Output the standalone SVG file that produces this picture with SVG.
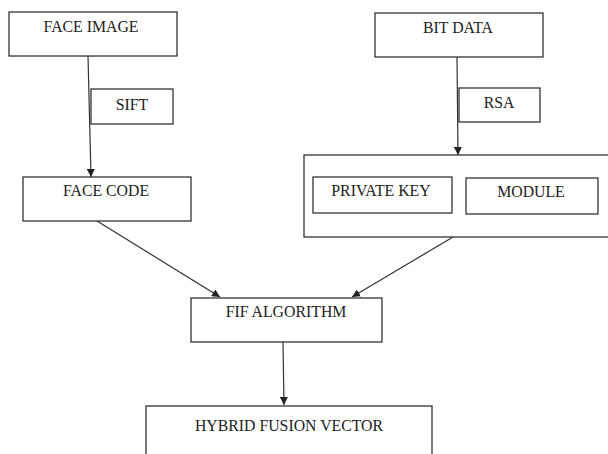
<svg xmlns="http://www.w3.org/2000/svg" width="608" height="454" viewBox="0 0 608 454">
<style>
rect{fill:#fff;stroke:#333;stroke-width:1.3}
text{font-family:"Liberation Serif",serif;font-size:15.8px;fill:#222;text-anchor:middle}
.c line{stroke:#333;stroke-width:1.2;marker-end:url(#ah)}
</style>
<defs>
<marker id="ah" viewBox="0 0 10 10" refX="10" refY="5" markerWidth="8" markerHeight="8" markerUnits="userSpaceOnUse" orient="auto">
<path d="M0,0 L10,5 L0,10 z" fill="#222"/>
</marker>
</defs>
<rect width="608" height="454" style="stroke:none"/>
<g class="c">
<line x1="88" y1="56" x2="91" y2="177"/>
<line x1="457" y1="57" x2="458" y2="155"/>
<line x1="97" y1="221" x2="220" y2="297"/>
<line x1="453" y1="237" x2="352" y2="297"/>
<line x1="283" y1="342" x2="284" y2="405"/>
</g>
<g id="face-image"><rect x="9" y="12" width="168" height="44"/><text x="91" y="32">FACE IMAGE</text></g>
<g id="sift"><rect x="91" y="89" width="82" height="35"/><text x="132" y="110">SIFT</text></g>
<g id="bit-data"><rect x="375" y="13" width="168" height="44"/><text x="458" y="33">BIT DATA</text></g>
<g id="rsa"><rect x="459" y="88" width="81" height="34"/><text x="499" y="108">RSA</text></g>
<g id="face-code"><rect x="23" y="177" width="168" height="44"/><text x="106" y="196">FACE CODE</text></g>
<g id="key-group"><rect x="304" y="155" width="310" height="82"/></g>
<g id="private-key"><rect x="313" y="177" width="139" height="36"/><text x="381" y="196">PRIVATE KEY</text></g>
<g id="module"><rect x="466" y="178" width="132" height="36"/><text x="531" y="197">MODULE</text></g>
<g id="fif"><rect x="191" y="298" width="191" height="44"/><text x="286" y="317">FIF ALGORITHM</text></g>
<g id="hybrid"><rect x="146" y="406" width="286" height="60"/><text x="289" y="431">HYBRID FUSION VECTOR</text></g>
</svg>
